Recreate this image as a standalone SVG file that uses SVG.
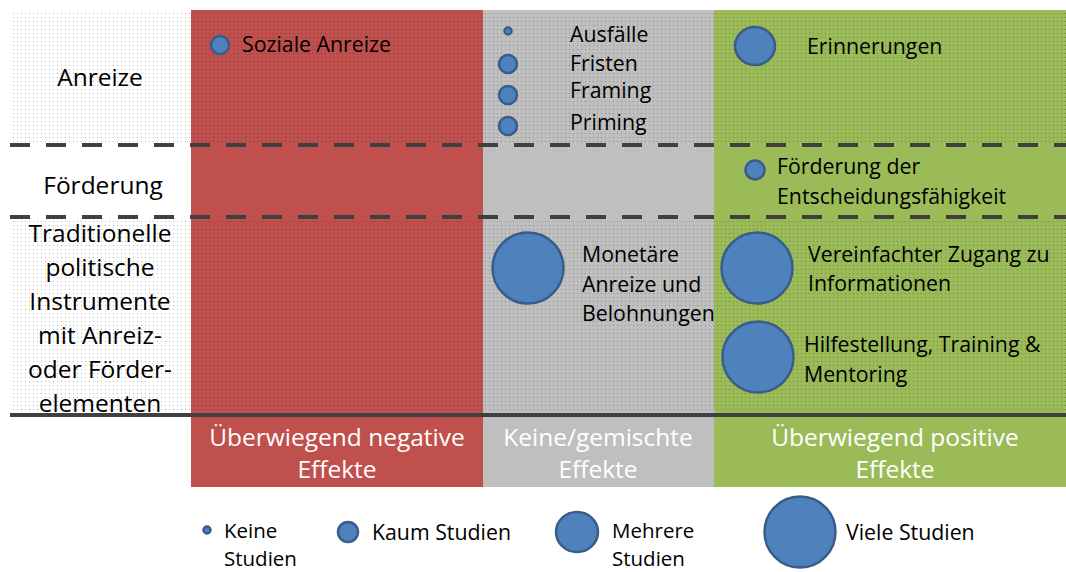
<svg xmlns="http://www.w3.org/2000/svg" width="1066" height="572" viewBox="0 0 1066 572">
<defs>
<pattern id="dots" width="4" height="4" patternUnits="userSpaceOnUse">
<rect x="1" y="1" width="1" height="1" fill="#000" fill-opacity="0.28"/>
</pattern>
</defs>
<style>
text{font-family:"Open Sans",Lato,"Liberation Sans",sans-serif;font-size:21.3px;fill:#000}
.row{font-size:24.5px;text-anchor:middle}
.lbl{font-size:24.5px;fill:#fff;text-anchor:middle}
.leg2{font-size:20.5px}
.c{fill:#4F81BD;stroke:#385D8A;stroke-width:2.5}
.dash{stroke:#404040;stroke-width:4;stroke-dasharray:20 16;fill:none}
</style>
<rect width="1066" height="572" fill="#fff"/>
<g id="columns">
<rect x="191" y="10" width="292" height="477" fill="#C0504D"/>
<rect x="483" y="10" width="231" height="477" fill="#BFBFBF"/>
<rect x="714" y="10" width="352" height="477" fill="#9BBB59"/>
<rect x="10" y="10" width="1056" height="134" fill="url(#dots)"/>
<rect x="10" y="219" width="1056" height="195" fill="url(#dots)"/>
</g>
<g id="lines">
<line class="dash" x1="10" y1="145" x2="1066" y2="145"/>
<line class="dash" x1="10" y1="217" x2="1066" y2="217"/>
<line x1="10" y1="415" x2="1066" y2="415" stroke="#404040" stroke-width="4"/>
</g>
<g id="row-anreize"><text class="row" x="100" y="86">Anreize</text></g>
<g id="row-foerderung"><text class="row" x="103" y="194">Förderung</text></g>
<g id="row-traditionelle">
<text class="row" x="100" y="242">Traditionelle</text>
<text class="row" x="100" y="276">politische</text>
<text class="row" x="100" y="310">Instrumente</text>
<text class="row" x="100" y="344">mit Anreiz-</text>
<text class="row" x="100" y="378">oder Förder-</text>
<text class="row" x="100" y="412">elementen</text>
</g>
<g id="node-soziale"><circle class="c" cx="220" cy="45" r="9"/><text x="242" y="52">Soziale Anreize</text></g>
<g id="node-ausfaelle"><circle class="c" cx="508" cy="31" r="3.5"/><text x="570" y="42">Ausfälle</text></g>
<g id="node-fristen"><circle class="c" cx="508" cy="64" r="9"/><text x="570" y="71">Fristen</text></g>
<g id="node-framing"><circle class="c" cx="508" cy="95" r="9"/><text x="570" y="98">Framing</text></g>
<g id="node-priming"><circle class="c" cx="508" cy="126" r="9"/><text x="570" y="130">Priming</text></g>
<g id="node-erinnerungen"><ellipse class="c" cx="755" cy="46" rx="20" ry="19"/><text x="807" y="54">Erinnerungen</text></g>
<g id="node-entscheidung"><circle class="c" cx="755" cy="170" r="9.5"/><text x="777" y="174">Förderung der</text><text x="777" y="204">Entscheidungsfähigkeit</text></g>
<g id="node-monetaer"><circle class="c" cx="528" cy="268" r="35.5"/><text x="582" y="262">Monetäre</text><text x="582" y="292">Anreize und</text><text x="582" y="321">Belohnungen</text></g>
<g id="node-zugang"><circle class="c" cx="757" cy="268" r="35.5"/><text x="808" y="262">Vereinfachter Zugang zu</text><text x="808" y="291">Informationen</text></g>
<g id="node-hilfe"><circle class="c" cx="758" cy="357" r="35.5"/><text x="804" y="352">Hilfestellung, Training &amp;</text><text x="804" y="382">Mentoring</text></g>
<g id="col-labels">
<text class="lbl" x="337" y="446">Überwiegend negative</text><text class="lbl" x="337" y="478">Effekte</text>
<text class="lbl" x="598" y="446">Keine/gemischte</text><text class="lbl" x="598" y="478">Effekte</text>
<text class="lbl" x="895" y="446">Überwiegend positive</text><text class="lbl" x="895" y="478">Effekte</text>
</g>
<g id="legend">
<circle class="c" cx="207" cy="530" r="3.5"/><text class="leg2" x="224" y="538">Keine</text><text class="leg2" x="224" y="566">Studien</text>
<circle class="c" cx="348" cy="532" r="10"/><text x="372" y="540">Kaum Studien</text>
<ellipse class="c" cx="577" cy="532" rx="21" ry="20"/><text class="leg2" x="612" y="538">Mehrere</text><text class="leg2" x="612" y="566">Studien</text>
<circle class="c" cx="800" cy="532" r="35.5"/><text x="846" y="540">Viele Studien</text>
</g>
</svg>
